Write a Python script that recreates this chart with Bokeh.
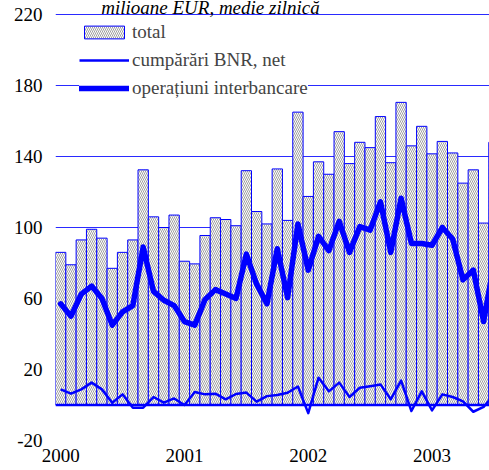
from bokeh.plotting import figure
from bokeh.models import FixedTicker, Range1d, Span, Legend, LegendItem, Label
from bokeh.embed import file_html
from bokeh.resources import INLINE

# ---- data ----
years = ["2000", "2001", "2002", "2003"]
year_pos = [0, 12, 24, 36]          # January of each year (month index)
y_ticks = [-20, 20, 60, 100, 140, 180, 220]
y_tick_labels = ["-20", "20", "60", "100", "140", "180", "220"]

# monthly values, Jan 2000 .. Jul 2003 (milioane EUR, medie zilnica)
total = [86, 79, 93, 99, 94, 77, 86, 93, 132.5, 106, 100, 107,
         81, 79.5, 95.5, 105.5, 104.5, 101, 132, 109, 102, 133, 104, 165,
         117.5, 137, 130, 154, 136, 148, 145, 162.5, 136.5, 170.5, 146, 157,
         141.5, 148.5, 142, 125, 132.5, 102.5, 148]
bnr = [8.8, 6.4, 8.8, 12.6, 8.8, 1.3, 6, -1.5, -1.5, 4.5, 1.3, 3.7,
       0, 7.3, 6, 6.4, 3.2, 6.2, 7, 1.9, 5, 5.6, 6.9, 10.4,
       -4.6, 15.4, 7.7, 12.6, 4.5, 9.7, 10.6, 11.6, 3.2, 13.7, -3.4, 7.7,
       -3, 6, 4.5, 2, -3.8, -1.1, 6]
interbank = [57, 50, 62.5, 67, 60, 45, 52.5, 56, 89, 64, 59, 56,
             47, 45, 59.5, 65, 62.5, 60, 85, 68, 57, 88, 60.5, 102,
             76, 95, 87, 103.5, 86, 100.5, 98.5, 114.5, 86, 116.5, 91, 91,
             90, 100, 93.5, 70.5, 76, 47, 80]
months = list(range(len(total)))

FONT = "Liberation Serif"
FS = "19px"
BLUE = "#0000FF"

p = figure(frame_width=434, frame_height=440,
           x_range=Range1d(-0.5, 41.57), y_range=Range1d(-20, 227.89),
           output_backend="svg", toolbar_location=None,
           min_border_left=55, min_border_right=0,
           min_border_top=0, min_border_bottom=30)
p.outline_line_color = None
p.background_fill_color = "white"

bars = p.vbar(x=months, top=total, bottom=0, width=1.0,
              fill_color="white", line_color=BLUE, line_width=1,
              hatch_pattern="\\", hatch_color="#a0a0a0",
              hatch_scale=4, hatch_weight=1)
thin = p.line(months, bnr, line_color=BLUE, line_width=2.5, line_join="round")
thick = p.line(months, interbank, line_color=BLUE, line_width=5.5,
               line_join="round", line_cap="round")

p.add_layout(Span(location=0, dimension="width", line_color=BLUE, line_width=2.5))

# grid
p.xgrid.visible = False
p.ygrid.ticker = FixedTicker(ticks=y_ticks)
p.ygrid.grid_line_color = "#2a2aff"
p.ygrid.grid_line_width = 1.2

# axes
p.yaxis.ticker = FixedTicker(ticks=y_ticks)
p.yaxis.major_label_overrides = {t: s for t, s in zip(y_ticks, y_tick_labels)}
p.xaxis.ticker = FixedTicker(ticks=year_pos)
p.xaxis.major_label_overrides = {t: s for t, s in zip(year_pos, years)}
for ax in (p.xaxis, p.yaxis):
    ax.axis_line_color = None
    ax.major_tick_line_color = None
    ax.minor_tick_line_color = None
    ax.major_tick_out = 0
    ax.major_tick_in = 0
    ax.minor_tick_out = 0
    ax.minor_tick_in = 0
    ax.major_label_text_font = FONT
    ax.major_label_text_font_size = FS
    ax.major_label_text_color = "black"
p.yaxis.major_label_standoff = 13
p.xaxis.major_label_standoff = 8

legend = Legend(items=[LegendItem(label="total", renderers=[bars]),
                       LegendItem(label="cumpărări BNR, net", renderers=[thin]),
                       LegendItem(label="operațiuni interbancare", renderers=[thick])],
                location=(24, 341), glyph_width=50, glyph_height=16,
                label_height=21, spacing=6, padding=6, margin=0,
                label_standoff=3, border_line_color=None,
                background_fill_color="white", background_fill_alpha=1,
                label_text_font=FONT, label_text_font_size=FS)
p.add_layout(legend)

p.add_layout(Label(x=14.52, y=224.2, text="milioane EUR, medie zilnică",
                   text_align="center", text_baseline="alphabetic",
                   text_font=FONT, text_font_style="italic",
                   text_font_size=FS, text_color="black"))

open("out.html", "w").write(file_html(p, INLINE))
